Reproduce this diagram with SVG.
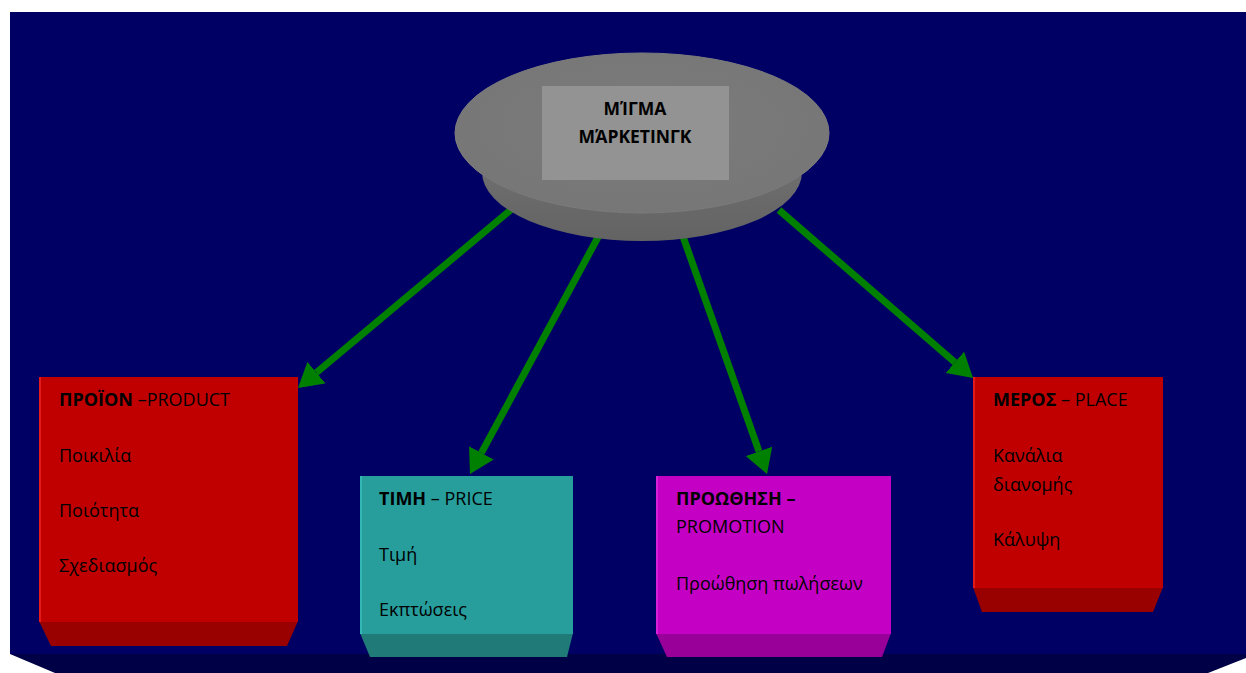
<svg xmlns="http://www.w3.org/2000/svg" width="1246" height="673" viewBox="0 0 1246 673">
  <style>
    .t { font-family: "Open Sans", "Noto Sans", sans-serif; font-size: 18px; fill: #000; }
    .b { font-weight: bold; }
    .hub { font-family: "Open Sans", "Noto Sans", sans-serif; font-size: 17.5px; font-weight: bold; fill: #000; text-anchor: middle; }
    .arrow { stroke: #008000; stroke-width: 7; fill: none; marker-end: url(#head); }
  </style>
  <defs>
    <marker id="head" markerUnits="userSpaceOnUse" markerWidth="24" markerHeight="28" viewBox="0 0 24 28" refX="0" refY="14" orient="auto">
      <path d="M0,0 L24,14 L0,28 Z" fill="#008000"/>
    </marker>
    <radialGradient id="topFace" cx="0.5" cy="0.45" r="0.6">
      <stop offset="0" stop-color="#7c7c7c"/>
      <stop offset="1" stop-color="#767676"/>
    </radialGradient>
    <linearGradient id="sideFace" x1="0" y1="0" x2="0" y2="1">
      <stop offset="0" stop-color="#747474"/>
      <stop offset="1" stop-color="#636363"/>
    </linearGradient>
  </defs>

  <!-- stage -->
  <rect width="1246" height="673" fill="#ffffff"/>
  <rect x="10" y="12" width="1236" height="642" fill="#000064"/>
  <polygon points="10,654 1246,654 1246,658 1208,673 55,673" fill="#000046"/>

  <!-- connectors -->
  <g id="connectors">
    <line class="arrow" x1="513" y1="208" x2="316.4" y2="372.6"/>
    <line class="arrow" x1="603" y1="228" x2="481.4" y2="452.9"/>
    <line class="arrow" x1="680" y1="228" x2="759" y2="451.4"/>
    <line class="arrow" x1="779" y1="210" x2="954.9" y2="362.3"/>
  </g>

  <!-- central disc -->
  <g id="hub">
    <path d="M455,133 C460,150 470,162 482,172 A160,69 0 0 0 802,172 C814,162 824,150 829,133 A187,80 0 0 1 455,133 Z" fill="url(#sideFace)"/>
    <ellipse cx="642" cy="133" rx="187" ry="80" fill="url(#topFace)" stroke="#7e7e7e" stroke-width="1"/>
    <rect x="542" y="86" width="187" height="94" fill="#939393"/>
    <text class="hub" x="635" y="115">ΜΊΓΜΑ</text>
    <text class="hub" x="635" y="143">ΜΆΡΚΕΤΙΝΓΚ</text>
  </g>

  <!-- product -->
  <g id="product">
    <polygon points="39,621 298,621 287,646 51,646" fill="#990000"/>
    <rect x="39" y="377" width="259" height="245" fill="#c00000"/>
    <rect x="39" y="377" width="2" height="245" fill="#e41a1a"/>
    <text class="t" x="59" y="406"><tspan class="b">ΠΡΟΪΟΝ</tspan> –PRODUCT</text>
    <text class="t" x="59" y="462">Ποικιλία</text>
    <text class="t" x="59" y="517">Ποιότητα</text>
    <text class="t" x="59" y="572">Σχεδιασμός</text>
  </g>

  <!-- price -->
  <g id="price">
    <polygon points="360,633 573,633 567,657 370,657" fill="#1f7a78"/>
    <rect x="360" y="476" width="213" height="158" fill="#279e9c"/>
    <rect x="360" y="476" width="2" height="158" fill="#34b6b4"/>
    <text class="t" x="379" y="505"><tspan class="b">ΤΙΜΗ</tspan> – PRICE</text>
    <text class="t" x="379" y="561">Τιμή</text>
    <text class="t" x="379" y="616">Εκπτώσεις</text>
  </g>

  <!-- promotion -->
  <g id="promotion">
    <polygon points="656,633 891,633 882,657 667,657" fill="#990099"/>
    <rect x="656" y="476" width="235" height="158" fill="#c400c4"/>
    <rect x="656" y="476" width="2" height="158" fill="#d820d8"/>
    <text class="t b" x="676" y="505">ΠΡΟΩΘΗΣΗ –</text>
    <text class="t" x="676" y="533">PROMOTION</text>
    <text class="t" x="676" y="590">Προώθηση πωλήσεων</text>
  </g>

  <!-- place -->
  <g id="place">
    <polygon points="973,587 1163,587 1153,612 982,612" fill="#990000"/>
    <rect x="973" y="377" width="190" height="211" fill="#c00000"/>
    <rect x="973" y="377" width="2" height="211" fill="#e41a1a"/>
    <text class="t" x="993" y="406"><tspan class="b">ΜΕΡΟΣ</tspan> – PLACE</text>
    <text class="t" x="993" y="462">Κανάλια</text>
    <text class="t" x="993" y="491">διανομής</text>
    <text class="t" x="993" y="546">Κάλυψη</text>
  </g>
</svg>
